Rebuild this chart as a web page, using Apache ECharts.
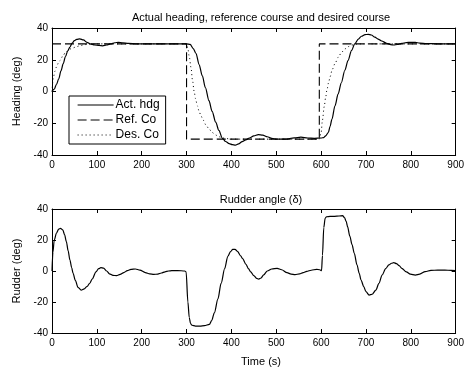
<!DOCTYPE html>
<html>
<head>
<meta charset="utf-8">
<script src="https://cdn.jsdelivr.net/npm/echarts@6/dist/echarts.min.js"></script>
<style>html,body{margin:0;padding:0;background:#fff}#c{width:467px;height:367px}</style>
</head>
<body>
<div id="c"></div>
<script>
// ---- data ----
var xTicks = [0, 100, 200, 300, 400, 500, 600, 700, 800, 900];
var yTicks = [-40, -20, 0, 20, 40];

var hdgT = [0,5,10,15,20,25,30,35,40,45,50,55,62,70,78,85,95,105,113,122,131,140,148,158,170,190,220,260,300,308,315,321,328,335,342,350,357,365,372,380,387,395,402,409,416,424,432,440,450,460,470,480,490,500,520,540,555,570,585,600,606,610,616,620,624,631,638,645,653,660,668,675,683,690,698,705,712,720,727,735,746,755,762,770,780,790,800,810,820,835,860,900];
var hdgV = [0,1.5,4.5,8,13,17.5,22,25.5,28,30.5,32,32.8,33.2,32.5,31,30,29.3,29,28.8,29.3,30,30.7,31,30.7,30.3,30,30,30,30,29.7,27,24,17,10,2.5,-5.8,-12.5,-19.3,-24.5,-29.5,-31.5,-32.8,-33.5,-33.8,-33,-31.6,-30.5,-29.3,-28,-27.2,-27.5,-28.5,-29.5,-30,-30,-29.2,-28.8,-29.3,-29.5,-29.3,-29,-28,-25.9,-22,-17.6,-9,-1.5,5.5,13.4,19.5,25.9,30,33,34.8,35.8,36,35.6,34.2,33,31.8,30.4,29.5,29.3,29.6,30.3,30.8,31,30.9,30.5,30.2,30,30];

var refT = [0, 300, 300, 596, 596, 900];
var refV = [30, 30, -30, -30, 30, 30];

var desT = [0,3,7,10,14,18,25,30,36,42,47,55,62,70,76,85,100,120,300,303,306,310,313,317,320,324,328,332,337,343,350,357,365,372,380,387,400,420,596,600,603,607,610,613,617,620,625,631,638,646,653,661,668,676,690,710,900];
var desV = [0,9,13,15.5,17.8,19.6,22.8,24.5,25.9,26.9,27.5,28.3,28.8,29.3,29.6,29.8,30,30,30,27,22,15,7.6,0,-4.5,-9,-12.5,-15.2,-18,-21,-23.5,-25.8,-27.4,-28.5,-29.2,-29.6,-30,-30,-30,-26,-18,-9.5,-4,1,6,9.3,14,17.6,21.5,24.8,26.8,28.3,29.2,29.8,30,30,30];

var rudT = [0,2,5,10,15,19,24,28,32,36,40,44,47,52,58,65,72,78,84,90,98,104,109,115,122,128,136,144,152,160,168,176,186,196,208,218,227,236,244,252,260,267,280,296,299,303,306,309,312,320,330,340,351,356,362,370,377,385,392,398,403,408,414,420,425,432,438,443,450,456,461,466,472,480,490,502,512,524,533,542,552,560,568,578,590,597,601,603,606,609,612,620,630,640,648,652,656,659,664,669,674,680,685,689,695,700,707,714,722,729,736,744,751,757,762,768,774,780,790,799,810,820,832,845,860,876,890,900];
var rudV = [0,12,20,24.5,27,27.5,26.5,23.5,19,13,7,2,-1.5,-6,-10.5,-12.3,-11.5,-10,-8,-5,-0.5,1.5,2.2,1.8,0,-1.8,-2.8,-3,-2.2,-1,0.2,1,1.3,0.6,-1,-1.9,-2.2,-2,-1.3,-0.5,0,0.2,0.3,0,-0.5,-20,-30,-34,-35,-35.5,-35.5,-35.2,-34.4,-32,-27,-18,-8,1.5,9.5,12.5,14,14,12.5,10,8,4.5,1.5,-0.5,-3,-4.7,-5.2,-4.5,-2.5,0,1.3,1.7,0.8,-1.1,-2,-2.4,-1.8,-1,-0.2,0.5,1.1,0.8,0.2,10,28,34,35,35.2,35.3,35.5,35.7,34.5,32,28.6,22.5,17,11.4,4,-1.5,-5.8,-10,-13.3,-15.5,-15,-12.3,-8,-2.6,1.5,3.9,5,5.4,4.8,3.5,1.7,-0.5,-2,-2.6,-2,-0.4,0.4,0.6,0.6,0.4,0.2];

function pairs(t, v) { return t.map(function (x, i) { return [x, v[i]]; }); }

var FONT = 'Liberation Sans';
var black = '#000';

function xAx(gi, pos, labels) {
  return {
    type: 'value', gridIndex: gi, position: pos, min: xTicks[0], max: xTicks[xTicks.length - 1], interval: 100,
    axisLine: { show: true, onZero: false, lineStyle: { color: black, width: 1 } },
    axisTick: { show: true, inside: true, length: 4, lineStyle: { color: black } },
    axisLabel: { show: labels, color: black, fontFamily: FONT, fontSize: 10, margin: 5 },
    splitLine: { show: false }
  };
}
function yAx(gi, pos, labels, name) {
  return {
    type: 'value', gridIndex: gi, position: pos, min: yTicks[0], max: yTicks[yTicks.length - 1], interval: 20,
    axisLine: { show: true, onZero: false, lineStyle: { color: black, width: 1 } },
    axisTick: { show: true, inside: true, length: 4, lineStyle: { color: black } },
    axisLabel: { show: labels, color: black, fontFamily: FONT, fontSize: 10, margin: 4 },
    splitLine: { show: false },
    name: name || '', nameLocation: 'middle', nameGap: 29, nameRotate: 90,
    nameTextStyle: { color: black, fontFamily: FONT, fontSize: 11 }
  };
}

var chart = echarts.init(document.getElementById('c'), null, { renderer: 'canvas' });
chart.setOption({
  animation: false,
  backgroundColor: '#fff',
  title: [
    { text: 'Actual heading, reference course and desired course', left: 256, top: 7, textAlign: 'center',
      textStyle: { fontFamily: FONT, fontSize: 11, fontWeight: 'normal', color: black } },
    { text: 'Rudder angle (δ)', left: 256, top: 189, textAlign: 'center',
      textStyle: { fontFamily: FONT, fontSize: 11, fontWeight: 'normal', color: black } },
    { text: 'Time (s)', left: 256, top: 351, textAlign: 'center',
      textStyle: { fontFamily: FONT, fontSize: 11, fontWeight: 'normal', color: black } }
  ],
  grid: [
    { left: 52, top: 28, width: 409, height: 127 },
    { left: 52, top: 209, width: 409, height: 124 }
  ],
  legend: {
    data: ['Act. hdg', 'Ref. Co', 'Des. Co'],
    orient: 'vertical', left: 69, top: 96,
    padding: [3, 6, 3, 8], itemGap: 3, itemWidth: 36, itemHeight: 14,
    backgroundColor: '#fff', borderColor: black, borderWidth: 1, borderRadius: 0,
    itemStyle: { opacity: 0 },
    lineStyle: { width: 1.2 },
    textStyle: { fontFamily: FONT, fontSize: 12, color: black, padding: [0, 0, 0, -3] },
    selectedMode: false
  },
  xAxis: [xAx(0, 'bottom', true), xAx(0, 'top', false), xAx(1, 'bottom', true), xAx(1, 'top', false)],
  yAxis: [yAx(0, 'left', true, 'Heading (deg)'), yAx(0, 'right', false), yAx(1, 'left', true, 'Rudder (deg)'), yAx(1, 'right', false)],
  series: [
    { name: 'Act. hdg', type: 'line', xAxisIndex: 0, yAxisIndex: 0, data: pairs(hdgT, hdgV), symbol: 'none',
      smooth: 0.3, smoothMonotone: 'x', lineStyle: { color: black, width: 1.2 }, itemStyle: { color: black }, z: 3 },
    { name: 'Ref. Co', type: 'line', xAxisIndex: 0, yAxisIndex: 0, data: pairs(refT, refV), symbol: 'none',
      lineStyle: { color: black, width: 1.1, type: [9, 4] }, itemStyle: { color: black }, z: 2 },
    { name: 'Des. Co', type: 'line', xAxisIndex: 0, yAxisIndex: 0, data: pairs(desT, desV), symbol: 'none',
      smooth: 0.3, smoothMonotone: 'x', lineStyle: { color: black, width: 1, type: [1, 3] }, itemStyle: { color: black }, z: 2 },
    { name: 'Rudder', type: 'line', xAxisIndex: 2, yAxisIndex: 2, data: pairs(rudT, rudV), symbol: 'none',
      smooth: 0.3, smoothMonotone: 'x', lineStyle: { color: black, width: 1.2 }, itemStyle: { color: black } }
  ]
});
</script>
</body>
</html>
